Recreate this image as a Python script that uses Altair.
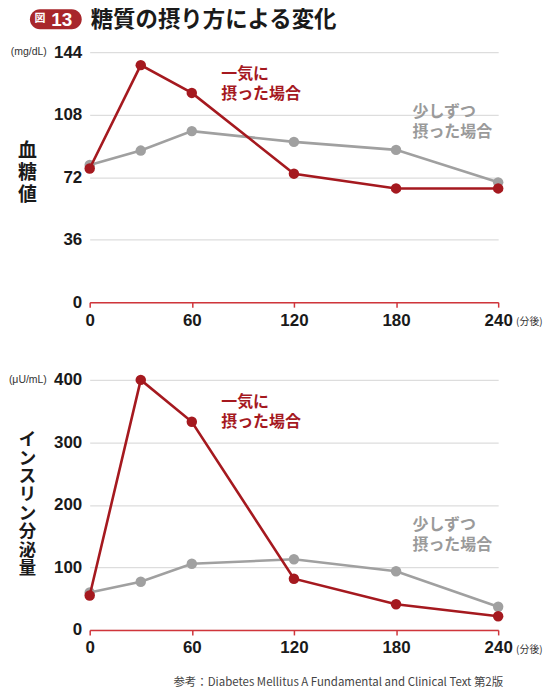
import altair as alt
import pandas as pd

minutes = [0, 30, 60, 120, 180, 240]
glucose_fast = [77, 136.5, 120.5, 74, 65.5, 65.5]
glucose_slow = [79, 87.3, 98.5, 92.3, 87.7, 69]
insulin_fast = [55, 400, 333, 82, 41, 22]
insulin_slow = [60, 77, 106, 113, 94, 37]
series_names = ["一気に摂った場合", "少しずつ摂った場合"]
x_ticks = [0, 60, 120, 180, 240]
glucose_ticks = [0, 36, 72, 108, 144]
insulin_ticks = [0, 100, 200, 300, 400]

RED = "#a5191f"
AXRED = "#d0353b"
GRAY = "#a0a0a0"
NUM = "'Liberation Sans', 'Noto Sans CJK JP', sans-serif"
JP = "'Noto Sans CJK JP', sans-serif"

W, H = 410, 251


def panel(fast, slow, ymax, yticks, ytitle, title_size, title_lh, title_y, unit, gray_y, show_title, footnote):
    df = pd.DataFrame({
        "min": minutes * 2,
        "v": fast + slow,
        "s": [series_names[0]] * len(minutes) + [series_names[1]] * len(minutes),
        "o": [1] * len(minutes) + [0] * len(minutes),
    })
    color = alt.Color("s:N", scale=alt.Scale(domain=series_names, range=[RED, GRAY]), legend=None)
    x = alt.X("min:Q", scale=alt.Scale(domain=[0, 240], nice=False),
              axis=alt.Axis(values=x_ticks, title=None, grid=False, domainColor=AXRED, tickColor=AXRED,
                            domainWidth=1.5, tickWidth=1.5, tickSize=5, labelFont=NUM, labelFontSize=17,
                            labelFontWeight="bold", labelColor="#1a1a1a", labelPadding=5, labelFlush=False))
    y = alt.Y("v:Q", scale=alt.Scale(domain=[0, ymax], nice=False),
              axis=alt.Axis(values=yticks, title=list(ytitle), titleAngle=0, titleFont=JP,
                            titleFontSize=title_size, titleFontWeight="bold", titleColor="#1a1a1a",
                            titleLineHeight=title_lh, titleX=-63, titleY=title_y, titleAlign="center",
                            titleBaseline="middle", domain=False, ticks=False, gridColor="#dddddd",
                            gridWidth=1.2, labelFont=NUM, labelFontSize=17, labelFontWeight="bold",
                            labelColor="#1a1a1a", labelPadding=8))
    slow_df = df[df["o"] == 0]
    fast_df = df[df["o"] == 1]
    layers = []
    for d in (slow_df, fast_df):
        c = alt.Chart(d)
        layers.append(c.mark_line(strokeWidth=2.6).encode(x=x, y=y, color=color))
        layers.append(c.mark_circle(size=110, opacity=1).encode(x=x, y=y, color=color))
    one = pd.DataFrame({"k": [0]})
    ann = alt.Chart(one)
    layers.append(ann.mark_text(align="left", baseline="middle", font=JP, fontSize=16, fontWeight="bold",
                                color=RED, lineBreak="\n", lineHeight=20)
                  .encode(x=alt.value(132), y=alt.value(22), text=alt.value("一気に\n摂った場合")))
    layers.append(ann.mark_text(align="left", baseline="middle", font=JP, fontSize=16, fontWeight="bold",
                                color="#9a9a9a", lineBreak="\n", lineHeight=20)
                  .encode(x=alt.value(324), y=alt.value(gray_y), text=alt.value("少しずつ\n摂った場合")))
    layers.append(ann.mark_text(align="right", baseline="middle", font=NUM, fontSize=10.5, color="#333333")
                  .encode(x=alt.value(-43), y=alt.value(0), text=alt.value(unit)))
    layers.append(ann.mark_text(align="left", baseline="middle", font=JP, fontSize=10, color="#333333")
                  .encode(x=alt.value(W + 18), y=alt.value(H + 20), text=alt.value("(分後)")))
    if show_title:
        layers.append(ann.mark_rect(cornerRadius=10, color="#a8262b")
                      .encode(x=alt.value(-60), x2=alt.value(-8), y=alt.value(-43), y2=alt.value(-23)))
        layers.append(ann.mark_text(align="center", baseline="middle", font=JP, fontSize=11,
                                    fontWeight="bold", color="white")
                      .encode(x=alt.value(-50), y=alt.value(-33), text=alt.value("図")))
        layers.append(ann.mark_text(align="center", baseline="middle", font=NUM, fontSize=19,
                                    fontWeight="bold", color="white")
                      .encode(x=alt.value(-28), y=alt.value(-32), text=alt.value("13")))
        layers.append(ann.mark_text(align="left", baseline="middle", font=JP, fontSize=22.5,
                                    fontWeight="bold", color="#1a1a1a")
                      .encode(x=alt.value(1), y=alt.value(-32), text=alt.value("糖質の摂り方による変化")))
    if footnote:
        layers.append(ann.mark_text(align="right", baseline="middle", font=JP, fontSize=11.5, color="#444444")
                      .encode(x=alt.value(W + 5), y=alt.value(H + 53),
                              text=alt.value("参考：Diabetes Mellitus A Fundamental and Clinical Text 第2版")))
    return alt.layer(*layers).properties(width=W, height=H)


top = panel(glucose_fast, glucose_slow, 144, glucose_ticks, "血糖値", 19, 22, 99,
            "(mg/dL)", 60, True, False)
bottom = panel(insulin_fast, insulin_slow, 400, insulin_ticks, "インスリン分泌量", 17.5, 18.5, 60,
               "(μU/mL)", 146, False, True)

chart = alt.vconcat(top, bottom, spacing=43).properties(
    padding={"left": 0, "top": 0, "right": 0, "bottom": 0}
).configure_view(stroke=None)

chart.save("out.html", embed_options={"renderer": "svg", "actions": False})
